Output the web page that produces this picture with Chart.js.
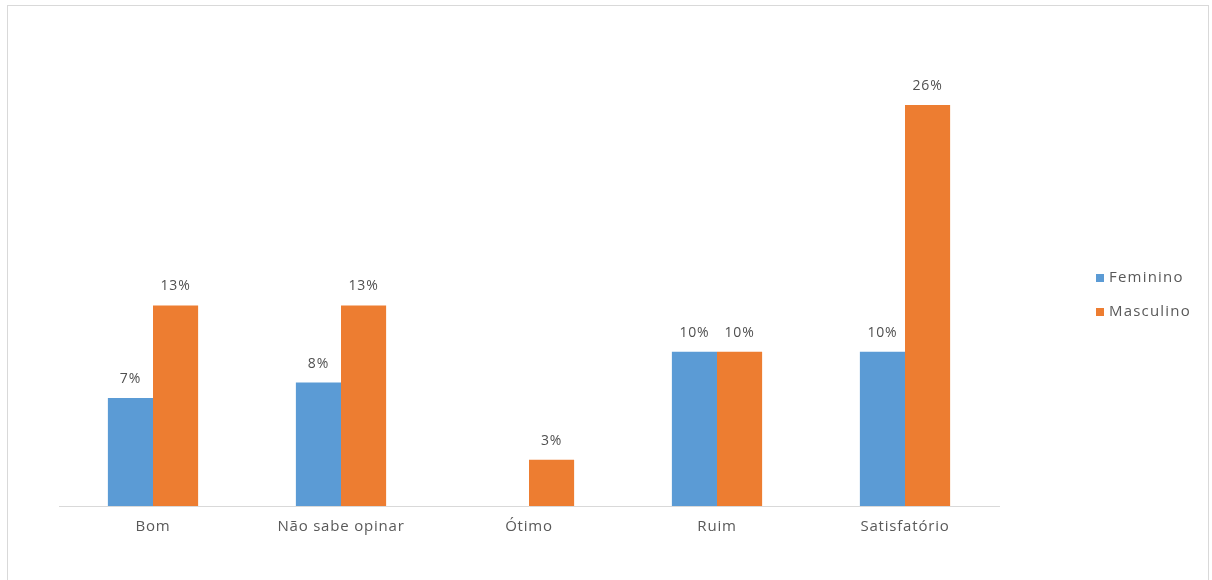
<!DOCTYPE html>
<html>
<head>
<meta charset="utf-8">
<script src="https://cdn.jsdelivr.net/npm/chart.js@4/dist/chart.umd.min.js"></script>
<style>
  html, body { margin: 0; padding: 0; background: #ffffff; }
  #wrap { position: relative; width: 1212px; height: 580px; overflow: hidden; }
  #frame { position: absolute; left: 7px; top: 5px; width: 1202px; height: 590px;
           border: 1px solid #d9d9d9; box-sizing: border-box; }
  #box { position: absolute; left: 0; top: 0; width: 1212px; height: 580px; }
</style>
</head>
<body>
<div id="wrap">
  <div id="frame"></div>
  <div id="box"><canvas id="c"></canvas></div>
</div>
<script>
// Categories and per-gender percentages
const categories = ['Bom', 'Não sabe opinar', 'Ótimo', 'Ruim', 'Satisfatório'];
const feminino = [7, 8, 0, 10, 10];
const masculino = [13, 13, 3, 10, 26];
const seriesNames = ['Feminino', 'Masculino'];
const seriesColors = ['#5B9BD5', '#ED7D31'];

const FONT = '"Open Sans", "Liberation Sans", sans-serif';

// Slightly open tracking for all canvas text
const tracking = {
  id: 'tracking',
  beforeDraw(chart) { chart.ctx.letterSpacing = '0.8px'; }
};

// Percentage labels above each bar
const valueLabels = {
  id: 'valueLabels',
  afterDatasetsDraw(chart) {
    const ctx = chart.ctx;
    ctx.save();
    ctx.letterSpacing = '0.8px';
    ctx.font = '14px ' + FONT;
    ctx.fillStyle = '#505050';
    ctx.textAlign = 'center';
    ctx.textBaseline = 'middle';
    chart.data.datasets.forEach((ds, i) => {
      const meta = chart.getDatasetMeta(i);
      meta.data.forEach((bar, j) => {
        const v = ds.data[j];
        if (!v) return;
        ctx.fillText(v + '%', bar.x, bar.y - 19);
      });
    });
    ctx.restore();
  }
};

// Legend drawn at the right of the plot
const sideLegend = {
  id: 'sideLegend',
  afterDraw(chart) {
    const ctx = chart.ctx;
    ctx.save();
    ctx.letterSpacing = '1.2px';
    ctx.font = '15px ' + FONT;
    ctx.textBaseline = 'middle';
    ctx.textAlign = 'left';
    chart.data.datasets.forEach((ds, i) => {
      const y = 278 + i * 34;
      ctx.fillStyle = ds.backgroundColor;
      ctx.fillRect(1096, y - 4, 8, 8);
      ctx.fillStyle = '#595959';
      ctx.fillText(ds.label, 1109, y);
    });
    ctx.restore();
  }
};

new Chart(document.getElementById('c'), {
  type: 'bar',
  data: {
    labels: categories,
    datasets: [
      { label: seriesNames[0], data: feminino, backgroundColor: seriesColors[0] },
      { label: seriesNames[1], data: masculino, backgroundColor: seriesColors[1] }
    ]
  },
  options: {
    responsive: true,
    maintainAspectRatio: false,
    animation: false,
    layout: { padding: { left: 59, right: 213, top: 105, bottom: 32 } },
    datasets: { bar: { categoryPercentage: 0.48, barPercentage: 1.0, borderWidth: 0 } },
    plugins: {
      legend: { display: false },
      tooltip: { enabled: false }
    },
    scales: {
      x: {
        grid: { display: false, drawTicks: false },
        border: { display: true, color: '#d9d9d9', width: 1 },
        ticks: { color: '#595959', font: { family: FONT, size: 15 }, padding: 12 }
      },
      y: { display: false, min: 0, max: 26 }
    }
  },
  plugins: [tracking, valueLabels, sideLegend]
});
</script>
</body>
</html>
